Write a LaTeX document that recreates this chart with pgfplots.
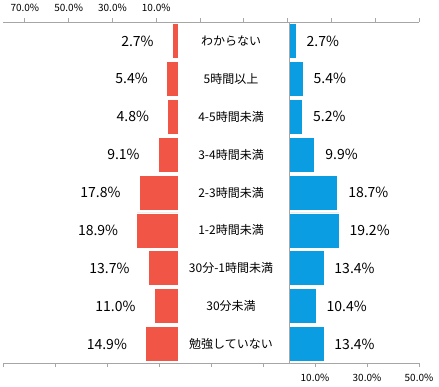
\documentclass[border=0pt]{standalone}
\usepackage{pgfplots}
\pgfplotsset{compat=1.18}
\usepackage{fontspec}
\setmainfont{Noto Sans CJK JP}
\definecolor{myred}{HTML}{F15545}
\definecolor{myblue}{HTML}{0A9DE2}
\definecolor{axgray}{HTML}{A6A6A6}
\begin{document}
\begin{tikzpicture}
\useasboundingbox (0,0) rectangle (439pt,387pt);
\pgfplotsset{base/.style={
  at={(3pt,24pt)}, anchor=south west, width=416pt, height=341pt, scale only axis,
  ymin=-0.5, ymax=8.5, y dir=reverse, axis y line=none, ytick=\empty,
  xbar, bar width=35pt, bar shift=0pt,
  tick align=outside, major tick length=4pt,
  every tick/.style={axgray, line width=0.8pt},
  axis line style={axgray, line width=0.8pt},
  tick label style={font=\fontsize{10}{10}\selectfont},
  /pgf/number format/assume math mode=true,
  nodes near coords={\pgfmathprintnumber[fixed,fixed zerofill,precision=1]{\pgfplotspointmeta}\%},
  point meta=x,
  clip=false,
}}
\begin{axis}[base, x dir=reverse, xmin=-110, xmax=80, axis x line*=top,
  xtick={-110,-90,...,70}, xticklabels={,,,,,,10.0\%,30.0\%,50.0\%,70.0\%},
  xticklabel style={yshift=3pt},
  every node near coord/.append style={anchor=east, xshift=-15pt, font=\fontsize{14}{14}\selectfont}]
\addplot[fill=myred, draw=white, line width=0.6pt] coordinates {(2.7,0) (5.4,1) (4.8,2) (9.1,3) (17.8,4) (18.9,5) (13.7,6) (11.0,7) (14.9,8)};
\end{axis}
\begin{axis}[base, xmin=-110, xmax=50, axis x line*=bottom,
  xtick={-110,-90,...,50}, xticklabels={,,,,,,10.0\%,30.0\%,50.0\%},
  xticklabel style={yshift=-4pt},
  every node near coord/.append style={anchor=west, xshift=7pt, font=\fontsize{14}{14}\selectfont}]
\addplot[fill=myblue, draw=white, line width=0.6pt] coordinates {(2.7,0) (5.4,1) (5.2,2) (9.9,3) (18.7,4) (19.2,5) (13.4,6) (10.4,7) (13.4,8)};
\draw[axgray, line width=0.8pt] (axis cs:0,-0.5) -- (axis cs:0,8.5);
\begin{scope}[every node/.style={font=\fontsize{12}{12}\selectfont}]
\node at (axis cs:-22.3,0) {わからない};
\node at (axis cs:-22.3,1) {5時間以上};
\node at (axis cs:-22.3,2) {4-5時間未満};
\node at (axis cs:-22.3,3) {3-4時間未満};
\node at (axis cs:-22.3,4) {2-3時間未満};
\node at (axis cs:-22.3,5) {1-2時間未満};
\node at (axis cs:-22.3,6) {30分-1時間未満};
\node at (axis cs:-22.3,7) {30分未満};
\node at (axis cs:-22.3,8) {勉強していない};
\end{scope}
\end{axis}
\end{tikzpicture}
\end{document}
